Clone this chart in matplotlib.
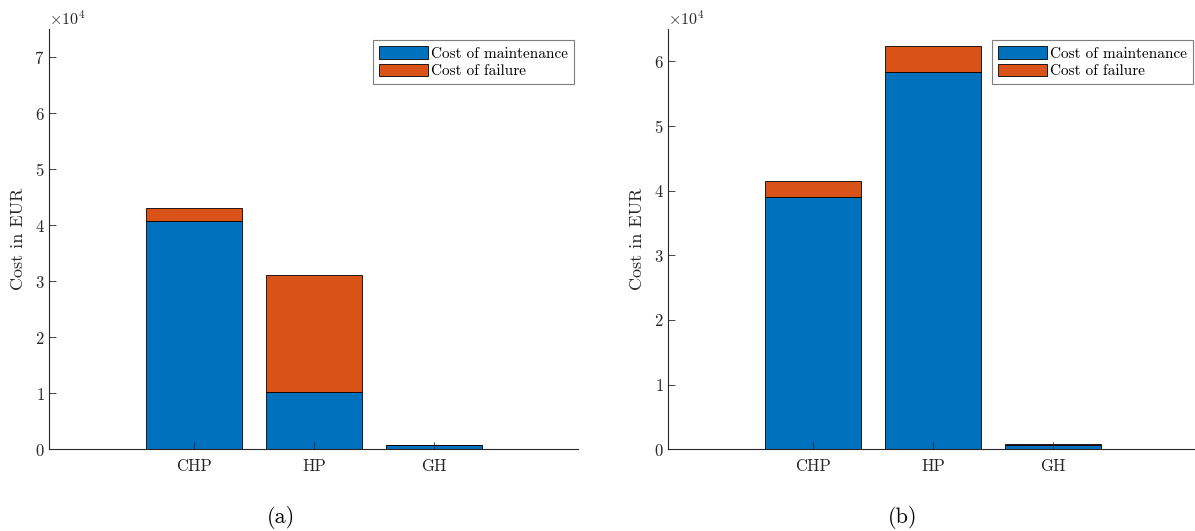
import numpy as np
import matplotlib
matplotlib.use('Agg')
import matplotlib.pyplot as plt

# cost breakdown per unit, in EUR
units = ['CHP', 'HP', 'GH']
maint_a = [40700, 10250, 700]
fail_a = [2400, 20850, 60]
maint_b = [39000, 58400, 700]
fail_b = [2500, 3900, 60]

blue = '#0072BD'
orange = '#D95319'
axcol = '#262626'

plt.rcParams.update({
    'font.family': 'serif',
    'font.serif': ['cmr10'],
    'mathtext.fontset': 'cm',
    'axes.formatter.use_mathtext': True,
    'axes.unicode_minus': False,
    'font.size': 11,
})

fig = plt.figure(figsize=(11.95, 5.31), dpi=100)
ax_a = fig.add_axes([0.0413, 0.1539, 0.4427, 0.7915])
ax_b = fig.add_axes([0.5594, 0.1539, 0.4427, 0.7915])

x = np.arange(1, len(units) + 1)


def draw(ax, maint, fail, ytop):
    ax.bar(x, maint, width=0.8, color=blue, edgecolor='k', linewidth=0.6,
           label='Cost of maintenance')
    ax.bar(x, fail, width=0.8, bottom=maint, color=orange, edgecolor='k',
           linewidth=0.6, label='Cost of failure')
    ax.set_xlim(-0.2, 4.2)
    ax.set_ylim(0, ytop)
    ax.set_xticks(x)
    ax.set_xticklabels(units, fontsize=12)
    ax.set_yticks(np.arange(0, ytop, 10000))
    ax.ticklabel_format(style='sci', axis='y', scilimits=(0, 0))
    ax.yaxis.get_offset_text().set_fontsize(11.5)
    ax.yaxis.get_offset_text().set_color(axcol)
    ax.tick_params(direction='in', length=5, width=0.6, colors=axcol,
                   labelsize=12)
    ax.tick_params(axis='x', pad=7)
    for s in ['top', 'right']:
        ax.spines[s].set_visible(False)
    for s in ['left', 'bottom']:
        ax.spines[s].set_color(axcol)
        ax.spines[s].set_linewidth(0.8)
    ax.set_ylabel('Cost in EUR', fontsize=13, color=axcol, labelpad=6)
    leg = ax.legend(loc='upper right', bbox_to_anchor=(1.0, 0.985),
                    fancybox=False, framealpha=1, edgecolor='#7f7f7f',
                    handlelength=3.2, handleheight=0.9, handletextpad=0.2,
                    borderaxespad=0.3, borderpad=0.4, labelspacing=0.2,
                    fontsize=11)
    leg.get_frame().set_linewidth(0.8)


draw(ax_a, maint_a, fail_a, 75000)
draw(ax_b, maint_b, fail_b, 65000)

fig.text(0.235, 0.025, '(a)', fontsize=16, ha='center', va='center')
fig.text(0.755, 0.025, '(b)', fontsize=16, ha='center', va='center')

plt.savefig('out.png', dpi=100)
